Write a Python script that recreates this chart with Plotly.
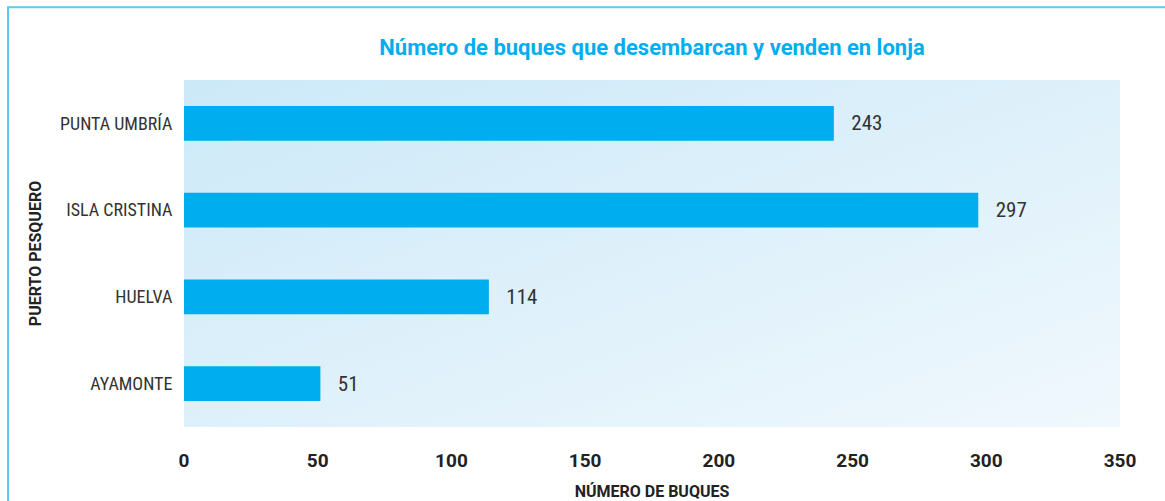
"""Plotly chart for the fishing-port landings panel.

Clean light style with a soft blue plot background, matching the printed report.
Returns a go.Figure.
"""

from __future__ import annotations

import plotly.graph_objects as go


# ── Data ──────────────────────────────────────────────────────────────────────

PORTS = ["PUNTA UMBRÍA", "ISLA CRISTINA", "HUELVA", "AYAMONTE"]
VESSELS = [243, 297, 114, 51]
X_TICKS = [0, 50, 100, 150, 200, 250, 300, 350]

TITLE = "Número de buques que desembarcan y venden en lonja"
X_TITLE = "NÚMERO DE BUQUES"
Y_TITLE = "PUERTO PESQUERO"


# ── Style helpers ─────────────────────────────────────────────────────────────

BAR_COLOR = "#00AEEF"
FRAME_COLOR = "#5CC8EE"
TEXT_COLOR = "#333333"
NARROW = "Liberation Sans Narrow, Roboto Condensed, Arial Narrow, Roboto, sans-serif"
WIDE = "Roboto, Arial, sans-serif"


def _gradient_svg() -> str:
    """Diagonal light-blue gradient used behind the bars."""
    svg = (
        "<svg xmlns='http://www.w3.org/2000/svg' width='100' height='100' preserveAspectRatio='none'>"
        "<defs><linearGradient id='g' x1='0' y1='0' x2='1' y2='1'>"
        "<stop offset='0' stop-color='%23CCE9F8'/>"
        "<stop offset='1' stop-color='%23F0F8FD'/>"
        "</linearGradient></defs>"
        "<rect width='100' height='100' fill='url(%23g)'/></svg>"
    )
    return "data:image/svg+xml;utf8," + svg


# ── Horizontal bar chart ──────────────────────────────────────────────────────

def vessels_by_port_chart(ports: list[str], values: list[int]) -> go.Figure:
    """Horizontal bars: vessels landing and selling at each port's fish market."""
    pad = "\u00a0\u00a0\u00a0"  # gap between bar end and its label
    fig = go.Figure(
        go.Bar(
            x=values,
            y=ports,
            orientation="h",
            marker=dict(color=BAR_COLOR, line=dict(width=0)),
            width=0.4,
            text=[f"{pad}{v}" for v in values],
            textposition="outside",
            textfont=dict(size=21, color=TEXT_COLOR, family=NARROW),
            cliponaxis=False,
            hovertemplate="<b>%{y}</b><br>Buques: %{x}<extra></extra>",
        )
    )

    # Soft gradient behind the plot area
    fig.add_layout_image(
        source=_gradient_svg(),
        xref="paper", yref="paper",
        x=0, y=1, sizex=1, sizey=1,
        sizing="stretch",
        xanchor="left", yanchor="top",
        layer="below",
    )

    # Thin blue frame round the panel (open to the right and bottom)
    fig.add_shape(
        type="rect",
        xref="paper", yref="paper",
        x0=-0.188, x1=1.3, y0=-0.5, y1=1.21,
        line=dict(color=FRAME_COLOR, width=2),
        fillcolor="rgba(0,0,0,0)",
        layer="below",
    )

    fig.update_layout(
        width=1165,
        height=501,
        plot_bgcolor="rgba(0,0,0,0)",
        paper_bgcolor="white",
        margin=dict(l=184, r=45, t=80, b=74, autoexpand=False),
        title=dict(
            text=f"<b>{TITLE}</b>",
            x=0.5,
            xref="paper",
            y=0.906,
            yanchor="middle",
            font=dict(size=22, color=BAR_COLOR, family=WIDE),
        ),
        xaxis=dict(
            range=[0, 350],
            tickvals=X_TICKS,
            ticktext=[f"<b>{t}</b>" for t in X_TICKS],
            showgrid=False,
            zeroline=False,
            showline=False,
            automargin=False,
            ticks="outside",
            ticklen=16,
            tickcolor="rgba(0,0,0,0)",
            tickfont=dict(size=19, color="#222222", family=WIDE),
            title=dict(
                text=f"<b>{X_TITLE}</b>",
                font=dict(size=16, color="#222222", family=WIDE),
                standoff=20,
            ),
        ),
        yaxis=dict(
            categoryorder="array",
            categoryarray=PORTS,
            autorange="reversed",
            showgrid=False,
            zeroline=False,
            showline=False,
            automargin=False,
            ticks="outside",
            ticklen=7,
            tickcolor="rgba(0,0,0,0)",
            tickfont=dict(size=18, color=TEXT_COLOR, family=NARROW),
            title=dict(
                text=f"<b>{Y_TITLE}</b>",
                font=dict(size=16, color="#222222", family=WIDE),
                standoff=14,
            ),
        ),
        showlegend=False,
        font=dict(family=NARROW),
    )
    return fig


fig = vessels_by_port_chart(PORTS, VESSELS)
fig.write_html(
    "out.html",
    config={"displayModeBar": False},
    post_script="document.body.style.margin = '0';",
)
